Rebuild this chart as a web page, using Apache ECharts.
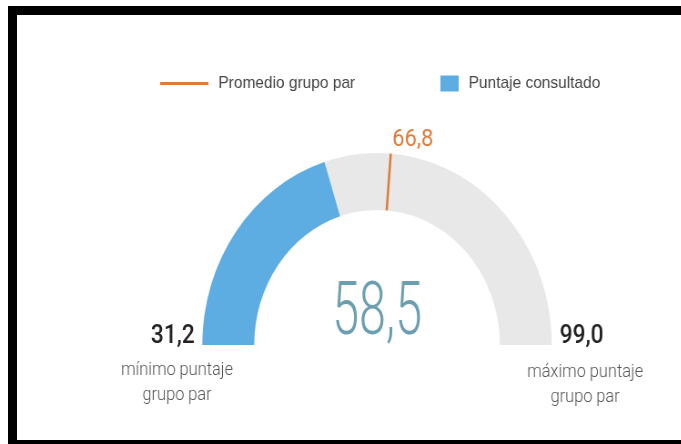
<!DOCTYPE html>
<html>
<head>
<meta charset="utf-8">
<script src="https://cdn.jsdelivr.net/npm/echarts@6/dist/echarts.min.js"></script>
<style>
    html, body { margin: 0; padding: 0; background: #fff; }
    #wrap { position: relative; width: 681px; height: 444px; overflow: hidden; }
    #frame {
        position: absolute; left: 8px; top: 6px; width: 700px; height: 425px;
        border-top: 9px solid #000; border-left: 9px solid #000; border-bottom: 6px solid #000;
    }
    /* the gauge in the reference is slightly squeezed horizontally */
    #chart {
        position: absolute; left: 0; top: 0; width: 748px; height: 444px;
        transform: scaleX(0.91); transform-origin: 0 0;
    }
</style>
</head>
<body>
<div id="wrap">
    <div id="frame"></div>
    <div id="chart"></div>
</div>
<script>
'use strict';

var scoreRange = [31.2, 99.0];          // minimo / maximo puntaje grupo par
var peerAverage = [66.8];               // promedio grupo par
var consultedScore = [58.5];            // puntaje consultado
var legendNames = ['Promedio grupo par', 'Puntaje consultado'];
var rangeCaptions = ['mínimo puntaje\ngrupo par', 'máximo puntaje\ngrupo par'];

var BLUE = '#5DADE2';
var GREY = '#E8E8E8';
var ORANGE = '#E07B39';

function fmt(v) {
    return v.toFixed(1).replace('.', ',');
}

var chart = echarts.init(document.getElementById('chart'));

var cx = 414.3;
var cy = 345;
var outerR = 192;
var band = 57;

var off = { show: false };
var legendText = { color: '#444', fontSize: 17, fontFamily: 'Liberation Sans', padding: [0, 0, 0, 6] };

var options = {
    animation: false,
    legend: [
        {
            data: [{ name: legendNames[0], itemStyle: { color: ORANGE } }],
            icon: 'rect',
            itemWidth: 53,
            itemHeight: 3,
            padding: 0,
            left: 176,
            top: 75,
            textStyle: legendText
        },
        {
            data: [{ name: legendNames[1], itemStyle: { color: BLUE } }],
            icon: 'rect',
            itemWidth: 20,
            itemHeight: 16,
            padding: 0,
            left: 484,
            top: 75,
            textStyle: legendText
        }
    ],
    series: [
        {
            type: 'gauge',
            name: legendNames[1],
            center: [cx, cy],
            radius: outerR,
            startAngle: 180,
            endAngle: 0,
            min: scoreRange[0],
            max: scoreRange[1],
            itemStyle: { color: BLUE },
            axisLine: { lineStyle: { width: band, color: [[1, GREY]] } },
            progress: { show: true, width: band, itemStyle: { color: BLUE } },
            pointer: off,
            anchor: off,
            axisTick: off,
            splitLine: off,
            axisLabel: off,
            title: off,
            detail: off,
            data: [{ value: consultedScore[0], name: legendNames[1] }]
        },
        {
            type: 'gauge',
            name: legendNames[0],
            center: [cx, cy],
            radius: outerR,
            startAngle: 180,
            endAngle: 0,
            min: scoreRange[0],
            max: scoreRange[1],
            itemStyle: { color: ORANGE },
            axisLine: off,
            progress: off,
            pointer: {
                show: true,
                icon: 'rect',
                width: 2.5,
                length: band,
                offsetCenter: [0, -(outerR - band)],
                itemStyle: { color: ORANGE }
            },
            anchor: off,
            axisTick: off,
            splitLine: off,
            axisLabel: off,
            title: off,
            detail: off,
            data: [{ value: peerAverage[0], name: legendNames[0] }]
        }
    ],
    graphic: [
        {
            type: 'text', x: 431, y: 140,
            style: { text: fmt(peerAverage[0]), fill: ORANGE, fontSize: 24, fontFamily: 'Roboto', align: 'left', verticalAlign: 'middle' }
        },
        {
            type: 'text', x: cx, y: 315, scaleX: 0.71,
            style: { text: fmt(consultedScore[0]), fill: '#6B9FB0', fontSize: 75, fontWeight: 300, fontFamily: 'Roboto', align: 'center', verticalAlign: 'middle' }
        },
        {
            type: 'text', x: 214, y: 337,
            style: { text: fmt(scoreRange[0]), fill: '#222', fontSize: 25, fontWeight: 500, fontFamily: 'Roboto', align: 'right', verticalAlign: 'middle' }
        },
        {
            type: 'text', x: 615, y: 337,
            style: { text: fmt(scoreRange[1]), fill: '#222', fontSize: 25, fontWeight: 500, fontFamily: 'Roboto', align: 'left', verticalAlign: 'middle' }
        },
        {
            type: 'text', x: 194.5, y: 383,
            style: { text: rangeCaptions[0], fill: '#555', fontSize: 18, fontWeight: 300, fontFamily: 'Roboto', lineHeight: 25, align: 'center', verticalAlign: 'middle' }
        },
        {
            type: 'text', x: 643, y: 385,
            style: { text: rangeCaptions[1], fill: '#555', fontSize: 18, fontWeight: 300, fontFamily: 'Roboto', lineHeight: 25, align: 'center', verticalAlign: 'middle' }
        }
    ]
};

chart.setOption(options);
</script>
</body>
</html>
